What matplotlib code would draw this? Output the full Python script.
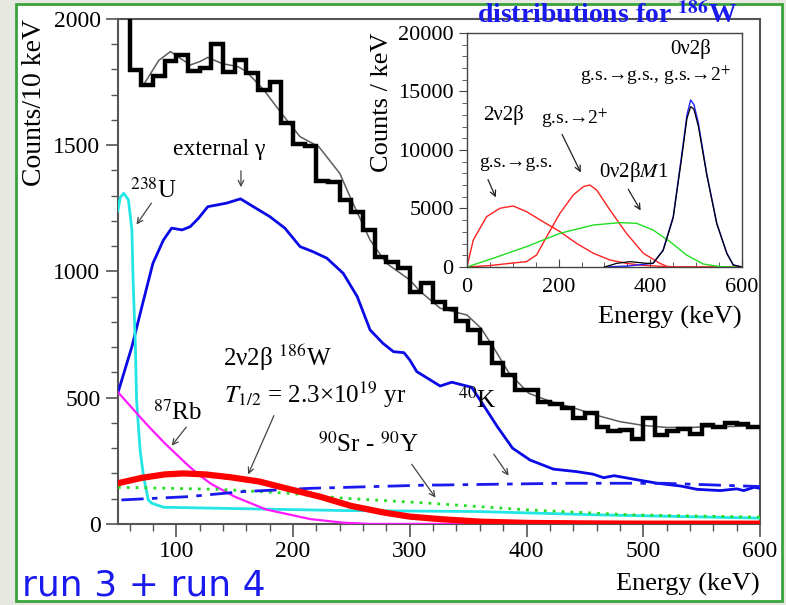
import matplotlib
matplotlib.use("Agg")
import matplotlib.pyplot as plt
import numpy as np
from matplotlib.patches import Rectangle
from matplotlib.ticker import MultipleLocator

plt.rcParams['font.family'] = ['Liberation Serif', 'DejaVu Serif']
plt.rcParams['mathtext.fontset'] = 'stix'

# ---- main plot data (counts / 10 keV) ----
hist_edges = list(range(50, 610, 10))
hist_counts = [2150, 1797, 1738, 1774, 1833, 1857, 1793, 1806, 1899, 1791,
               1837, 1787, 1718, 1751, 1586, 1503, 1497, 1358, 1355, 1283,
               1236, 1164, 1058, 1038, 1012, 920, 953, 880, 850, 805,
               768, 715, 636, 590, 530, 530, 484, 475, 458, 418,
               438, 385, 369, 372, 335, 418, 352, 368, 375, 355,
               392, 383, 399, 395, 383]

fit_e = [73, 85, 95, 103, 112, 120, 127, 139, 153, 160, 175, 190, 206, 222, 240,
         250, 266, 280, 300, 309, 326, 349, 361, 373, 385, 402, 421, 440, 460,
         480, 500, 520, 540, 560, 580, 600]
fit_c = [1746, 1835, 1870, 1845, 1817, 1830, 1847, 1823, 1810, 1791, 1718, 1626,
         1533, 1494, 1388, 1283, 1124, 1032, 966, 920, 854, 827, 775, 689, 597,
         517, 484, 460, 430, 405, 390, 382, 382, 385, 386, 388]

ext_e = [50, 62, 72, 80, 89, 96, 105, 112, 119, 127, 143, 155, 166, 180, 193, 206,
         217, 229, 243, 255, 266, 277, 286, 295, 300, 306, 326, 336, 353, 362, 375,
         388, 403, 423, 443, 457, 466, 475, 492, 512, 532, 546, 566, 580, 586, 595, 600]
ext_c = [519, 702, 887, 1032, 1124, 1171, 1164, 1177, 1210, 1256, 1270, 1287, 1256,
         1217, 1171, 1098, 1078, 1052, 992, 900, 768, 715, 682, 678, 649, 603, 546,
         561, 541, 478, 385, 300, 253, 217, 207, 197, 183, 191, 177, 161, 150, 137,
         132, 139, 132, 145, 141]

u238_e = [50, 52, 55, 59, 62, 63, 65, 66, 69, 72, 76, 79, 89, 137, 243, 359, 460, 600]
u238_c = [1240, 1293, 1309, 1283, 1164, 966, 702, 491, 293, 187, 95, 82, 66, 62, 53, 49, 36, 23]

rb87_e = [50, 60, 70, 80, 90, 100, 110, 120, 130, 150, 177, 215, 243, 265, 600]
rb87_c = [522, 470, 418, 368, 320, 276, 232, 192, 158, 108, 57, 19, 5, 0, 0]

w186_e = [50, 70, 90, 106, 125, 146, 171, 194, 223, 250, 278, 300, 326, 360, 400, 450, 500, 600]
w186_c = [161, 182, 196, 200, 196, 185, 168, 141, 108, 71, 45, 29, 19, 9, 4, 2, 1, 1]

sry_e = [50, 137, 194, 243, 317, 326, 403, 489, 600]
sry_c = [145, 137, 122, 102, 82, 79, 55, 36, 27]

k40_e = [53, 110, 157, 215, 317, 326, 432, 517, 600]
k40_c = [95, 108, 128, 141, 154, 154, 161, 161, 148]

# ---- inset data (counts / keV) ----
gs_e = [0, 14, 43, 72, 101, 130, 166, 203, 239, 276, 312, 348, 384, 421, 450, 600]
gs_c = [0, 2308, 4300, 5017, 5214, 4730, 3875, 3020, 2022, 1168, 600, 313, 142, 57, 0, 0]

ex_e = [0, 50, 94, 130, 152, 174, 203, 232, 254, 268, 283, 312, 348, 385, 421, 436, 460, 600]
ex_c = [0, 120, 313, 456, 1026, 2593, 4587, 6154, 6866, 7008, 6581, 4872, 2877, 1168, 313, 50, 0, 0]

m1_e = [0, 57, 130, 203, 276, 334, 370, 406, 443, 479, 515, 552, 580, 600]
m1_c = [0, 741, 1738, 2877, 3590, 3789, 3732, 3162, 2165, 1026, 256, 30, 0, 0]

zn_blue_e = [300, 350, 406, 428, 450, 468, 480, 488, 495, 505, 523, 545, 567, 581, 600]
zn_blue_c = [0, 80, 313, 1453, 4300, 9430, 13000, 14270, 13900, 12280, 8000, 3735, 1168, 170, 0]

zn_black_e = [300, 327, 356, 392, 406, 428, 450, 468, 480, 488, 495, 505, 523, 545, 567, 581, 600]
zn_black_c = [0, 313, 456, 313, 313, 1400, 4200, 9200, 12700, 13700, 13500, 12000, 7900, 3700, 1150, 170, 0]

fig = plt.figure(figsize=(7.86, 6.05), dpi=100)
fig.patch.set_facecolor('#e8e8e3')
fig.add_artist(Rectangle((16 / 786, 4 / 605), 766 / 786, 597 / 605, transform=fig.transFigure,
                         facecolor='white', edgecolor='#3aa33a', lw=2, zorder=0))

ax = fig.add_axes([0.150, 0.134, 0.817, 0.835])
ax.set_facecolor('white')
ax.set_xlim(50, 600)
ax.set_ylim(0, 2000)

ax.plot(fit_e, fit_c, color='#5c5c5c', lw=1.1, zorder=3)
ax.stairs(hist_counts, hist_edges, color='black', lw=3.2, baseline=None, zorder=4)
ax.plot(ext_e, ext_c, color='#0a0ae6', lw=2.0, zorder=3)
ax.plot(u238_e, u238_c, color='#22e5e5', lw=2.0, zorder=3)
ax.plot(rb87_e, rb87_c, color='#ff1aff', lw=1.6, zorder=3)
ax.plot(sry_e, sry_c, color='#22dd22', lw=2.0, ls=(0, (1, 2.2)), zorder=3)
ax.plot(k40_e, k40_c, color='#1a1aee', lw=2.0, ls=(0, (8, 3, 2, 3)), zorder=3)
ax.plot(w186_e, w186_c, color='#ff0000', lw=4.5, zorder=5)

ax.xaxis.set_major_locator(MultipleLocator(100))
ax.xaxis.set_minor_locator(MultipleLocator(20))
ax.yaxis.set_major_locator(MultipleLocator(500))
ax.yaxis.set_minor_locator(MultipleLocator(100))
ax.tick_params(which='major', direction='out', length=9, width=1.2, labelsize=17, color='#555555')
ax.tick_params(which='minor', direction='out', length=5, width=1.0, color='#555555')
for s in ax.spines.values():
    s.set_color('#555555')
    s.set_linewidth(1.5)

ax.set_ylabel('Counts/10 keV', fontsize=20, loc='top')
ax.set_xlabel('Energy (keV)', fontsize=19, loc='right')
ax.yaxis.set_label_coords(-0.11, 1.0)
ax.xaxis.set_label_coords(1.0, -0.097)

arr = dict(arrowstyle='->', color='#444444', lw=0.9)
ax.text(137, 1481, 'external γ', fontsize=17, ha='center', va='center')
ax.annotate('', xy=(155.4, 1322), xytext=(155.4, 1409), arrowprops=arr)
ax.text(60.5, 1322, '$^{238}$U', fontsize=18, ha='left', va='center')
ax.annotate('', xy=(64.6, 1176), xytext=(80, 1279), arrowprops=arr)
ax.text(80, 443, '$^{87}$Rb', fontsize=18, ha='left', va='center')
ax.annotate('', xy=(94.6, 301), xytext=(110, 392), arrowprops=arr)
ax.text(140, 657, '2ν2β $^{186}$W', fontsize=18, ha='left', va='center')
ax.text(141, 510, '$T_{1/2}$ = 2.3×10$^{19}$ yr', fontsize=18, ha='left', va='center')
ax.annotate('', xy=(160.6, 186), xytext=(184.6, 439), arrowprops=arr)
ax.text(221, 313, '$^{90}$Sr - $^{90}$Y', fontsize=18, ha='left', va='center')
ax.annotate('', xy=(323.4, 95), xytext=(300.3, 245), arrowprops=arr)
ax.text(341, 491, '$^{40}$K', fontsize=18, ha='left', va='center')
ax.annotate('', xy=(386, 182), xytext=(370.6, 285), arrowprops=arr)

# ---- inset ----
ins = fig.add_axes([0.594, 0.5587, 0.350, 0.3868])
ins.set_facecolor('white')
ins.set_xlim(0, 600)
ins.set_ylim(0, 20000)
ins.plot(gs_e, gs_c, color='#ff2020', lw=1.0)
ins.plot(ex_e, ex_c, color='#ff2020', lw=1.0)
ins.plot(m1_e, m1_c, color='#20e020', lw=1.0)
ins.plot(zn_blue_e, zn_blue_c, color='#2020ff', lw=1.0)
ins.plot(zn_black_e, zn_black_c, color='black', lw=0.9)

ins.xaxis.set_major_locator(MultipleLocator(200))
ins.xaxis.set_minor_locator(MultipleLocator(50))
ins.yaxis.set_major_locator(MultipleLocator(5000))
ins.yaxis.set_minor_locator(MultipleLocator(1000))
ins.tick_params(axis='y', which='both', direction='out', labelsize=16, color='#444444')
ins.tick_params(axis='x', which='both', direction='in', labelsize=16, color='#444444', pad=8)
ins.tick_params(which='major', length=6)
ins.tick_params(which='minor', length=3.5)
for s in ins.spines.values():
    s.set_color('#444444')
    s.set_linewidth(1.0)
ins.set_ylabel('Counts / keV', fontsize=19, loc='top')
ins.set_xlabel('Energy (keV)', fontsize=19, loc='right', labelpad=6)

arr2 = dict(arrowstyle='->', color='#222222', lw=0.9)
ins.text(489, 18630, '0ν2β', fontsize=15, ha='center', va='center')
ins.text(412, 16410, 'g.s.→g.s., g.s.→2$^{+}$', fontsize=14, ha='center', va='center')
ins.text(80, 12990, '2ν2β', fontsize=15, ha='center', va='center')
ins.text(107, 8890, 'g.s.→g.s.', fontsize=14, ha='center', va='center')
ins.annotate('', xy=(65.5, 5730), xytext=(43.6, 7690), arrowprops=arr2)
ins.text(235, 12740, 'g.s.→2$^{+}$', fontsize=14, ha='center', va='center')
ins.annotate('', xy=(251, 7860), xytext=(205, 11540), arrowprops=arr2)
ins.text(365, 8120, '0ν2β$M$1', fontsize=15, ha='center', va='center')
ins.annotate('', xy=(382, 4620), xytext=(349, 6840), arrowprops=arr2)

fig.text(0.773, 0.998, 'distributions for $^{\\mathbf{186}}$W', fontsize=20, fontweight='bold',
         color='#1a1aee', ha='center', va='top')
fig.text(0.028, 0.004, 'run 3 + run 4', fontsize=26, color='#1a1aee', family='DejaVu Sans',
         ha='left', va='bottom')

fig.savefig('out.png', dpi=100, facecolor=fig.get_facecolor())
